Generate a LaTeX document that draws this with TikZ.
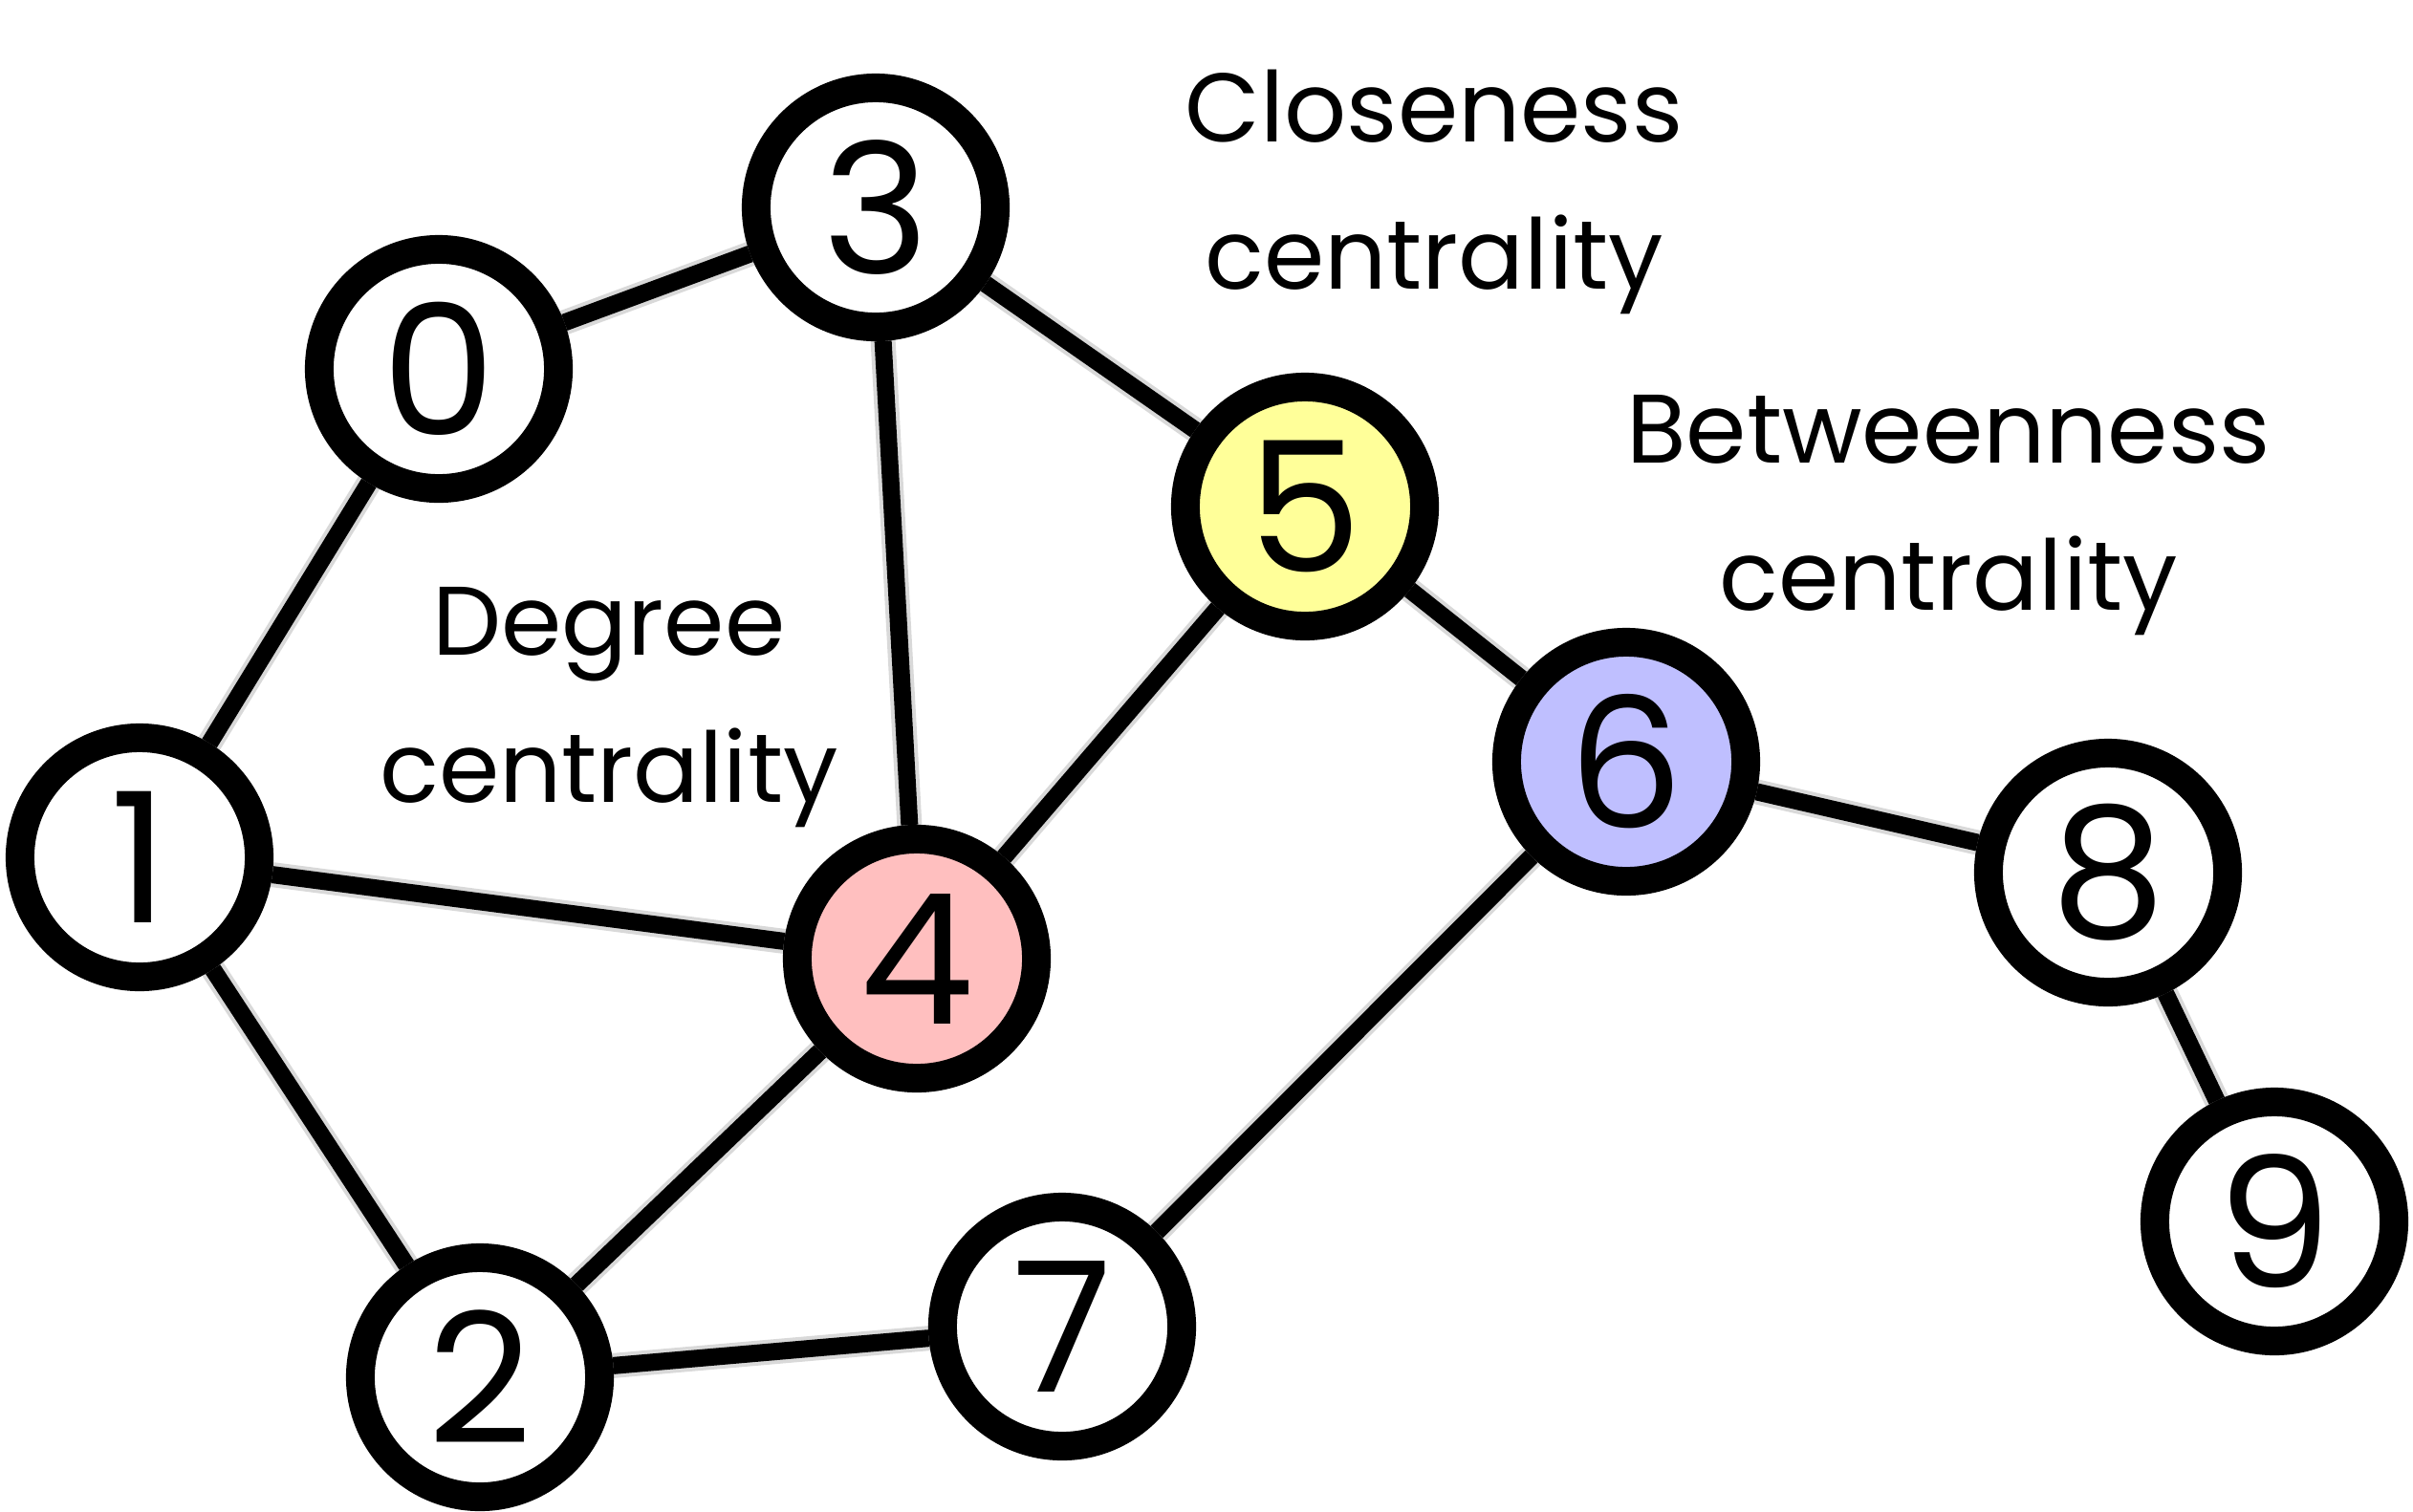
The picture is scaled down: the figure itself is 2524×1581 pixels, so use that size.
\documentclass[tikz,border=0pt]{standalone}
\usepackage{fontspec}
\setmainfont{Poppins}
\usetikzlibrary{backgrounds}
\definecolor{pinkfill}{RGB}{255,191,191}
\definecolor{yellowfill}{RGB}{255,255,153}
\definecolor{bluefill}{RGB}{191,191,255}
\tikzset{
  vertex/.style={circle, draw, line width=0.3cm, minimum size=2.5cm, inner sep=0pt,
    fill=white, font=\fontsize{54}{54}\selectfont},
  edge/.style={line width=0.18cm},
  edgeshadow/.style={line width=0.26cm, draw=black, opacity=0.15, shift={(7,9)}},
  edgeshadowcore/.style={line width=0.16cm, draw=black, opacity=0.25, shift={(7,9)}},
  centralitytext/.style={align=center, font=\fontsize{29}{44}\selectfont}
}
\begin{document}
\begin{tikzpicture}[x=0.01cm,y=-0.01cm]
  \useasboundingbox (0,0) rectangle (2524,1581);
  % vertices
  \node[vertex] (n0) at (459,386) {0};
  \node[vertex] (n1) at (146,897) {1};
  \node[vertex] (n2) at (502,1441) {2};
  \node[vertex] (n3) at (916,217) {3};
  \node[vertex, fill=pinkfill] (n4) at (959,1003) {4};
  \node[vertex, fill=yellowfill] (n5) at (1365,530) {5};
  \node[vertex, fill=bluefill] (n6) at (1701,797) {6};
  \node[vertex] (n7) at (1111,1388) {7};
  \node[vertex] (n8) at (2205,913) {8};
  \node[vertex] (n9) at (2379,1278) {9};
  % captions
  \node[centralitytext] (closeness) at (1500,201) {Closeness\\centrality};
  \node[centralitytext] (betweenness) at (2038,539) {Betweenness\\centrality};
  \node[centralitytext] (degree) at (637,740) {Degree\\centrality};
  % edges
  \begin{scope}[on background layer]
    \foreach \a/\b in {n0/n3, n0/n1, n1/n4, n1/n2, n2/n4, n2/n7, n3/n4, n3/n5, n4/n5, n5/n6, n6/n7, n6/n8, n8/n9} {
      \draw[edgeshadow] (\a.center) -- (\b.center);
      \draw[edgeshadowcore] (\a.center) -- (\b.center);
      \draw[edge] (\a) -- (\b);
    }
  \end{scope}
\end{tikzpicture}
\end{document}
